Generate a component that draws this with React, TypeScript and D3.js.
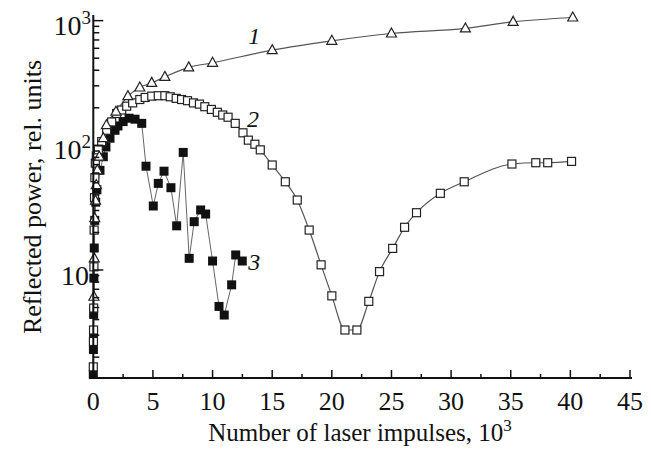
import * as d3 from "d3";

// number of laser impulses, 10^3
const s1X = [0.05, 0.08, 0.12, 0.18, 0.25, 0.34, 0.5, 0.84, 1.1, 1.9, 2.9, 3.9, 4.9, 6.0, 8.0, 10.0, 15.0, 20.0, 25.0, 31.2, 35.2, 40.2];
const s1Y = [6.1, 12.4, 26, 36, 48, 63, 81, 114, 145, 186, 248, 291, 317, 354, 422, 459, 580, 689, 789, 866, 978, 1060];

const s2X = [0, 0.01, 0.02, 0.03, 0.05, 0.07, 0.1, 0.13, 0.17, 0.25, 0.42, 0.7, 1.12, 1.54, 1.96, 2.38, 2.8, 3.3, 3.9, 4.35, 4.9, 5.45, 6.0, 6.45, 6.95, 7.4, 7.9, 8.4, 8.9, 9.35, 9.9, 10.4, 10.85, 11.3, 11.9, 12.55, 13.0, 13.55, 14.0, 15.0, 16.1, 17.1, 18.1, 19.1, 20.0, 21.1, 22.1, 23.1, 24.0, 25.1, 26.1, 27.1, 29.1, 31.1, 35.1, 37.1, 38.1, 40.1];
const s2Y = [1.67, 2.67, 3.3, 4.95, 10.6, 20.9, 38, 55, 72, 82, 92, 107, 132, 154, 180, 192, 206, 219, 233, 242, 248, 250, 250, 245, 238, 233, 228, 219, 214, 204, 194, 184, 175, 168, 150, 126, 110, 102, 92, 69.5, 51, 36.4, 20.9, 11.0, 6.2, 3.3, 3.3, 5.6, 9.7, 14.9, 22.0, 28.8, 41.2, 51, 70.8, 72.5, 72.5, 74.3];

const s3X = [0, 0.01, 0.02, 0.03, 0.05, 0.08, 0.12, 0.2, 0.3, 0.56, 0.84, 1.06, 1.4, 1.82, 2.07, 2.5, 3.0, 3.5, 4.06, 4.42, 5.03, 5.45, 5.93, 6.51, 6.99, 7.54, 8.04, 8.46, 9.0, 9.42, 10.0, 10.54, 10.98, 11.6, 11.94, 12.49];
const s3Y = [1.45, 2.3, 3.0, 4.4, 8.6, 15, 25, 35, 44, 63, 81, 97, 114, 132, 143, 155, 165, 162, 150, 68, 32.6, 49.5, 62, 45.7, 22.6, 87.7, 12.4, 24.4, 30.3, 28.1, 11.8, 5.1, 4.35, 7.6, 13.2, 11.8];

const xMajor = [0, 5, 10, 15, 20, 25, 30, 35, 40, 45];
const xMinor = [2.5, 7.5, 12.5, 17.5, 22.5, 27.5, 32.5, 37.5, 42.5];
const yMajor = [10, 100, 1000];
const yMajorExp = ["1", "2", "3"];

// curve labels: text, x, y
const curveNames = ["1", "2", "3"];
const curveNameX = [13.5, 13.4, 13.5];
const curveNameY = [650, 140, 10];

const W = 651;
const H = 449;
const serif = "'Liberation Serif', 'Times New Roman', serif";

const x = d3.scaleLinear().domain([0, 45]).range([93.3, 630]);
const y = d3.scaleLog().domain([1.36, 1110]).range([378, 15]);

const yMinor: number[] = [];
[1, 10, 100].forEach((d) => {
  for (let k = 2; k <= 9; k++) yMinor.push(d * k);
});

const toPts = (xs: number[], ys: number[]) => xs.map((v, i) => [v, ys[i]] as [number, number]);

const smooth = d3
  .line<[number, number]>()
  .x((d) => x(d[0]))
  .y((d) => y(d[1]))
  .curve(d3.curveMonotoneX);
const straight = d3
  .line<[number, number]>()
  .x((d) => x(d[0]))
  .y((d) => y(d[1]));

const tri = "M0,-5.5L5,3.5L-5,3.5Z";

export default function App() {
  const p1 = toPts(s1X, s1Y);
  const p2 = toPts(s2X, s2Y);
  const p3 = toPts(s3X, s3Y);
  const axisY = y.range()[0];
  const axisX = x.range()[0];

  return (
    <svg
      width={W}
      height={H}
      style={{ position: "absolute", left: 0, top: 0, background: "#fff" }}
      fontFamily={serif}
    >
      {/* lines */}
      <path d={smooth(p1) || ""} fill="none" stroke="#555" strokeWidth={1.2} />
      <path d={smooth(p2) || ""} fill="none" stroke="#555" strokeWidth={1.2} />
      <path d={straight(p3) || ""} fill="none" stroke="#666" strokeWidth={1} />

      {/* markers */}
      {p3.map((d, i) => (
        <rect key={"c" + i} x={x(d[0]) - 4.5} y={y(d[1]) - 4.5} width={9} height={9} fill="#111" />
      ))}
      {p2.map((d, i) => (
        <rect
          key={"b" + i}
          x={x(d[0]) - 4}
          y={y(d[1]) - 4}
          width={8}
          height={8}
          fill="#fff"
          stroke="#222"
          strokeWidth={1.2}
        />
      ))}
      {p1.map((d, i) => (
        <path
          key={"a" + i}
          d={tri}
          transform={`translate(${x(d[0])},${y(d[1])})`}
          fill="#fff"
          stroke="#222"
          strokeWidth={1.2}
        />
      ))}

      {/* axes */}
      <line x1={axisX} x2={axisX} y1={y.range()[1]} y2={axisY + 1} stroke="#111" strokeWidth={2} />
      <line x1={axisX - 1} x2={x.range()[1] + 2} y1={axisY} y2={axisY} stroke="#111" strokeWidth={2.2} />
      {yMinor.map((v) => (
        <line key={"ym" + v} x1={axisX} x2={axisX + 6} y1={y(v)} y2={y(v)} stroke="#111" strokeWidth={1.5} />
      ))}
      {yMajor.map((v) => (
        <line key={"yM" + v} x1={axisX} x2={axisX + 10} y1={y(v)} y2={y(v)} stroke="#111" strokeWidth={1.5} />
      ))}
      {xMinor.map((v) => (
        <line key={"xm" + v} x1={x(v)} x2={x(v)} y1={axisY} y2={axisY - 4} stroke="#111" strokeWidth={1.5} />
      ))}
      {xMajor.map((v) => (
        <line key={"xM" + v} x1={x(v)} x2={x(v)} y1={axisY} y2={axisY - 8} stroke="#111" strokeWidth={1.5} />
      ))}

      {/* tick labels */}
      {xMajor.map((v) => (
        <text key={"xl" + v} x={x(v)} y={410} textAnchor="middle" fontSize={26} fill="#111">
          {v}
        </text>
      ))}
      {yMajor.map((v, i) =>
        v === 10 ? (
          <text key={"yl" + v} x={89} y={y(v) + 15} textAnchor="end" fontSize={28} fill="#111">
            10
          </text>
        ) : (
          <text key={"yl" + v} x={91} y={y(v) + 14} textAnchor="end" fontSize={28} fill="#111">
            10
            <tspan fontSize={19} dy={-11}>
              {yMajorExp[i]}
            </tspan>
          </text>
        )
      )}

      {/* curve numbers */}
      {curveNames.map((t, i) => (
        <text
          key={"n" + t}
          x={x(curveNameX[i])}
          y={y(curveNameY[i])}
          textAnchor="middle"
          fontSize={24}
          fontStyle="italic"
          fill="#111"
        >
          {t}
        </text>
      ))}

      {/* axis titles */}
      <text x={360} y={441} textAnchor="middle" fontSize={25} fill="#111">
        Number of laser impulses, 10
        <tspan fontSize={17} dy={-10}>
          3
        </tspan>
      </text>
      <text transform="translate(41,197) rotate(-90)" textAnchor="middle" fontSize={26} fill="#111">
        Reflected power, rel. units
      </text>
    </svg>
  );
}
